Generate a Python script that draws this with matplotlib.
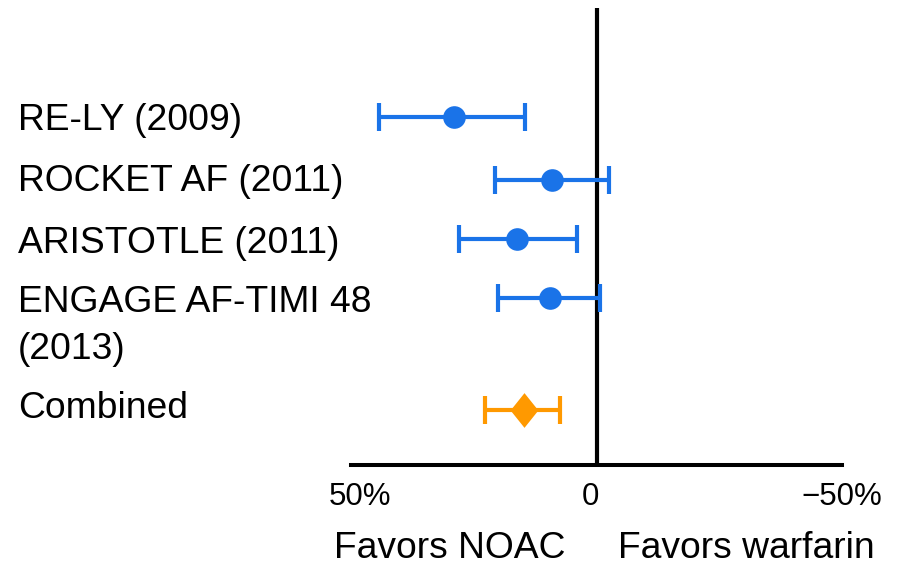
import matplotlib
matplotlib.use("Agg")
import matplotlib.pyplot as plt
import matplotlib.transforms as mtransforms
from matplotlib.path import Path

plt.rcParams['font.family'] = ['Liberation Sans', 'DejaVu Sans']

# trials, relative risk reduction (%) with 95% CI
trials = ['RE-LY (2009)', 'ROCKET AF (2011)', 'ARISTOTLE (2011)',
          'ENGAGE AF-TIMI 48\n(2013)', 'Combined']
point = [29.1, 9.0, 16.2, 9.4, 14.8]
ci_low = [13.9, -2.7, 4.3, -1.2, 6.8]
ci_high = [43.6, 20.5, 28.5, 19.5, 22.1]
tick_vals = [50, 0, -50]
tick_labels = ['50%', '0', '\u221250%']

blue = '#1a73e8'
orange = '#ff9900'

W, H = 899, 562
fig = plt.figure(figsize=(W / 100, H / 100), dpi=100)
ax = fig.add_axes([351 / W, (H - 465) / H, 491 / W, (465 - 8) / H])

# row positions (marks) and label centres in pixels from the top
row_px = [117, 180, 239, 298, 410]
label_px = [117, 178, 240, 299, 405]
ypos = [(465 - p) / 60 for p in row_px]

diamond = Path([(0, 1), (0.8, 0), (0, -1), (-0.8, 0), (0, 1)],
               [Path.MOVETO, Path.LINETO, Path.LINETO, Path.LINETO, Path.CLOSEPOLY])

for i, (p, lo, hi, y) in enumerate(zip(point, ci_low, ci_high, ypos)):
    last = i == len(point) - 1
    c = orange if last else blue
    ax.errorbar(p, y, xerr=[[hi - p], [p - lo]], fmt='none', ecolor=c,
                elinewidth=3.0, capsize=10, capthick=3.0, zorder=3)
    if last:
        ax.plot(p, y, marker=diamond, ms=25, color=c, mec='none', zorder=4)
    else:
        ax.plot(p, y, 'o', ms=16.3, color=c, mec='none', zorder=4)

    ly = (465 - label_px[i]) / 60
    for k, line in enumerate(trials[i].split('\n')):
        ax.annotate(line, xy=(0, ly), xycoords=('figure fraction', 'data'),
                    xytext=(18, -13 - 47 * k), textcoords='offset pixels',
                    ha='left', va='baseline', fontsize=26.8)

ax.axvline(0, color='black', lw=3.0, zorder=2)

ax.set_xlim(50, -50)
ax.set_ylim(0, (465 - 8) / 60)
for s in ['top', 'right', 'left']:
    ax.spines[s].set_visible(False)
ax.spines['bottom'].set_linewidth(2.9)
ax.set_yticks([])
ax.set_xticks(tick_vals)
ax.set_xticklabels(tick_labels, fontsize=22.5)
ax.tick_params(axis='x', length=0, pad=12)

# nudge tick labels to where they sit in the picture
shifts = [9, -6, 0]
for lab, dx in zip(ax.get_xticklabels(), shifts):
    lab.set_transform(lab.get_transform() +
                      mtransforms.ScaledTranslation(dx / 100, 0, fig.dpi_scale_trans))

fig.text(450 / W, (H - 558) / H, 'Favors NOAC', ha='center', va='baseline', fontsize=26.8)
fig.text(746 / W, (H - 558) / H, 'Favors warfarin', ha='center', va='baseline', fontsize=26.8)

fig.savefig('out.png', dpi=100)
